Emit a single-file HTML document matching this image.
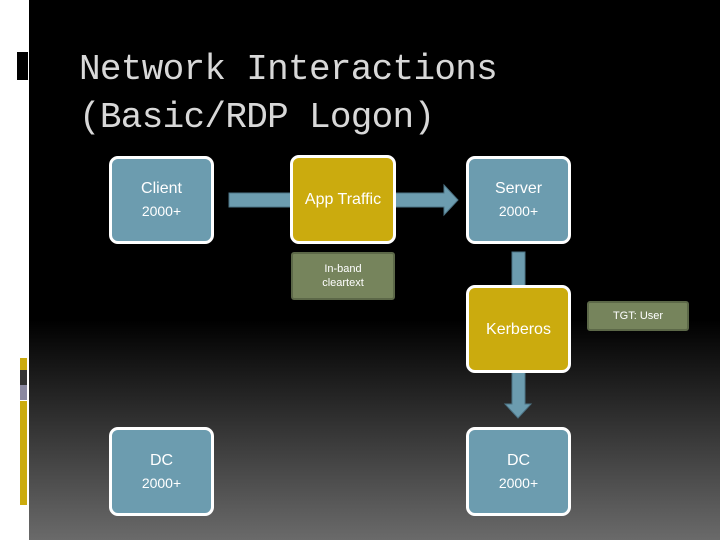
<!DOCTYPE html>
<html><head><style>
body{margin:0;width:720px;height:540px;overflow:hidden;position:relative;font-family:"Liberation Sans",sans-serif}
.bg{position:absolute;left:29px;top:0;width:691px;height:540px;background:linear-gradient(#000 0,#000 320px,#6a6a6a 540px)}
.strip{position:absolute;left:0;top:0;width:29px;height:540px;background:#fff}
.t{position:absolute;left:79px;color:#d8d8d8;font-family:"Liberation Mono",monospace;font-size:36px;letter-spacing:-0.7px}
.b{position:absolute;box-sizing:border-box;border:3px solid #fff;border-radius:9px;display:flex;flex-direction:column;align-items:center;justify-content:center;color:#fff;text-align:center;font-size:16px;line-height:23px}
.blue{background:#6c9caf}.gold{background:#cbab0e}
.g{position:absolute;box-sizing:border-box;background:#76845c;border:2px solid #5c6848;border-radius:3px;color:#fff;font-size:11px;line-height:14px;display:flex;flex-direction:column;align-items:center;justify-content:center}
.s{font-size:14px}
</style></head><body>
<div class="strip"></div>
<div class="bg"></div>
<div style="position:absolute;left:17px;top:52px;width:11px;height:28px;background:#000"></div>
<div style="position:absolute;left:20px;top:358px;width:7px;height:12px;background:#cbab0e"></div>
<div style="position:absolute;left:20px;top:370px;width:7px;height:15px;background:#333"></div>
<div style="position:absolute;left:20px;top:385px;width:7px;height:15px;background:#8a88a0"></div>
<div style="position:absolute;left:20px;top:401px;width:7px;height:104px;background:#cbab0e"></div>
<div class="t" style="top:49px">Network Interactions</div>
<div class="t" style="top:97px">(Basic/RDP Logon)</div>
<svg style="position:absolute;left:0;top:0" width="720" height="540">
<rect x="229" y="193" width="64" height="14" fill="#6c9caf" stroke="#4d7486"/>
<polygon points="394,193 444,193 444,185 458,200 444,215 444,207 394,207" fill="#6c9caf" stroke="#4d7486"/>
<rect x="512" y="252" width="13" height="36" fill="#6c9caf" stroke="#4d7486"/>
<polygon points="512,370 525,370 525,404 531,404 518,418 505,404 512,404" fill="#6c9caf" stroke="#4d7486"/>
</svg>
<div class="b blue" style="left:109px;top:156px;width:105px;height:88px"><div>Client</div><div class="s">2000+</div></div>
<div class="b gold" style="left:290px;top:155px;width:106px;height:89px"><div>App Traffic</div></div>
<div class="b blue" style="left:466px;top:156px;width:105px;height:88px"><div>Server</div><div class="s">2000+</div></div>
<div class="g" style="left:291px;top:252px;width:104px;height:48px"><div>In-band</div><div>cleartext</div></div>
<div class="b gold" style="left:466px;top:285px;width:105px;height:88px"><div>Kerberos</div></div>
<div class="g" style="left:587px;top:301px;width:102px;height:30px"><div>TGT: User</div></div>
<div class="b blue" style="left:109px;top:427px;width:105px;height:89px"><div>DC</div><div class="s">2000+</div></div>
<div class="b blue" style="left:466px;top:427px;width:105px;height:89px"><div>DC</div><div class="s">2000+</div></div>
</body></html>
